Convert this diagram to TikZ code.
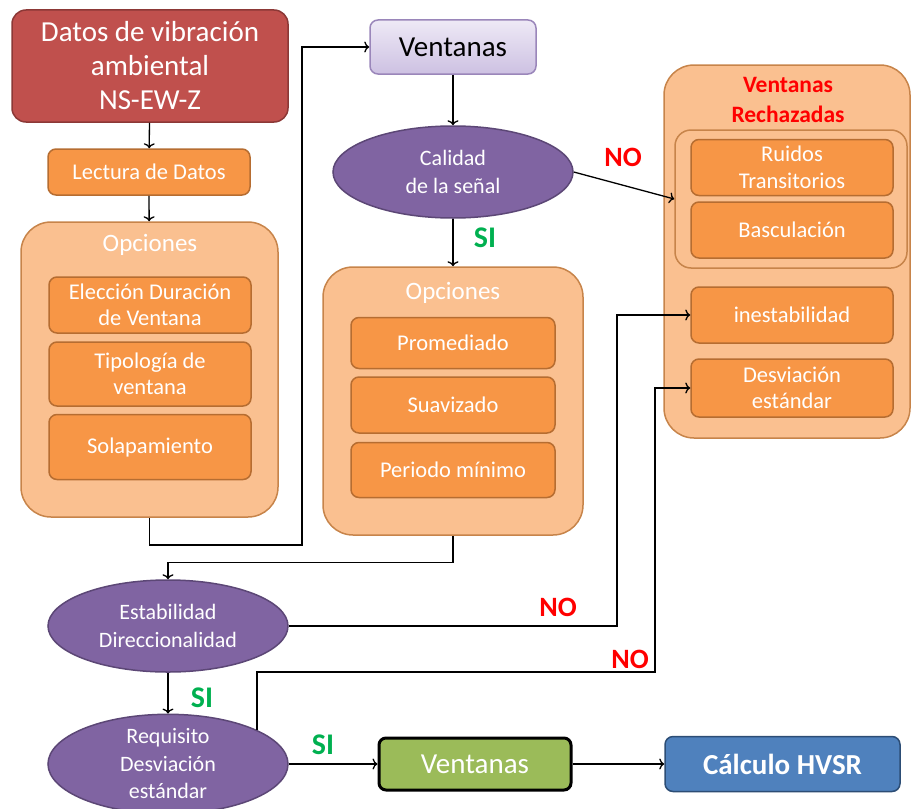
\documentclass[tikz,border=0pt]{standalone}
\usepackage{fontspec}
\setmainfont{Carlito}
\usetikzlibrary{shapes.geometric,arrows.meta}

\definecolor{datosred}{HTML}{C0504D}
\definecolor{datosedge}{HTML}{8C3836}
\definecolor{naranja}{HTML}{F79646}
\definecolor{naranjaedge}{HTML}{B66D31}
\definecolor{claro}{HTML}{FAC090}
\definecolor{claroedge}{HTML}{C7844A}
\definecolor{morado}{HTML}{8064A2}
\definecolor{moradoedge}{HTML}{5C4776}
\definecolor{lilatop}{HTML}{EEE9F6}
\definecolor{lilabot}{HTML}{CDC1E2}
\definecolor{lilaedge}{HTML}{9A86BA}
\definecolor{verde}{HTML}{9BBB59}
\definecolor{azul}{HTML}{4F81BD}
\definecolor{azuledge}{HTML}{2C4D75}
\definecolor{rojo}{HTML}{FF0000}
\definecolor{sigreen}{HTML}{00B050}

\begin{document}
\begin{tikzpicture}[x=1pt, y=-1pt, >={To[length=5pt,width=11pt]}, line width=1.3pt,
    opt/.style={rectangle, rounded corners=8pt, draw=naranjaedge, fill=naranja, line width=1.5pt, text=white, align=center, minimum width=202pt, font=\fontsize{22.5}{26.5}\selectfont},
    panel/.style={rectangle, rounded corners=30pt, draw=claroedge, fill=claro, line width=1.5pt},
    paneltit/.style={text=white, font=\fontsize{25}{28}\selectfont},
    decision/.style={ellipse, draw=moradoedge, fill=morado, line width=1.5pt, text=white, align=center, inner sep=0pt, minimum width=240pt, minimum height=92pt, font=\fontsize{22}{27.5}\selectfont},
    lblno/.style={text=rojo, font=\bfseries\fontsize{28}{30}\selectfont},
    lblsi/.style={text=sigreen, font=\bfseries\fontsize{30}{32}\selectfont}]
    \useasboundingbox (0,0) rectangle (912,808);

    % columna izquierda
    \node[rectangle, rounded corners=14pt, draw=datosedge, fill=datosred, line width=1.5pt, text=white, align=center, minimum width=276pt, minimum height=112pt, font=\fontsize{29}{34}\selectfont] (datos) at (150,66) {Datos de vibración\\ambiental\\NS-EW-Z};
    \node[opt, minimum height=46pt] (lectura) at (149,172) {Lectura de Datos};
    \node[panel, minimum width=257pt, minimum height=295pt] (opcA) at (149.5,369.5) {};
    \node[paneltit] (opcAtit) at (150,245) {Opciones};
    \node[opt, minimum height=56pt] (eleccion) at (150,305) {Elección Duración\\de Ventana};
    \node[opt, minimum height=64pt] (tipologia) at (150,374) {Tipología de\\ventana};
    \node[opt, minimum height=65pt] (solapa) at (150,447) {Solapamiento};

    % columna central
    \node[rectangle, rounded corners=8pt, draw=lilaedge, top color=lilatop, bottom color=lilabot, line width=1.5pt, minimum width=166pt, minimum height=54pt, font=\fontsize{29}{32}\selectfont] (vent1) at (453,47) {Ventanas};
    \node[decision] (calidad) at (453,172) {Calidad\\de la señal};
    \node[panel, minimum width=260pt, minimum height=268pt] (opcB) at (453,401) {};
    \node[paneltit] (opcBtit) at (453,293) {Opciones};
    \node[opt, minimum width=204pt, minimum height=51pt] (prom) at (453,343) {Promediado};
    \node[opt, minimum width=204pt, minimum height=56pt] (suav) at (453,405) {Suavizado};
    \node[opt, minimum width=204pt, minimum height=55pt] (periodo) at (453,470) {Periodo mínimo};

    % ventanas rechazadas
    \node[panel, minimum width=246pt, minimum height=373pt] (rech) at (787,251.5) {};
    \node[text=rojo, align=center, font=\bfseries\fontsize{23.5}{30}\selectfont] (rechtit) at (788,100) {Ventanas\\Rechazadas};
    \node[panel, rounded corners=16pt, minimum width=232pt, minimum height=138pt] (grupo) at (791,199) {};
    \node[opt, minimum height=56pt] (ruidos) at (792,167.5) {Ruidos\\Transitorios};
    \node[opt, minimum height=56pt] (bascul) at (792,230) {Basculación};
    \node[opt, minimum height=56pt] (inest) at (792,315) {inestabilidad};
    \node[opt, minimum height=58pt] (desv) at (792,388) {Desviación\\estándar};

    % parte inferior
    \node[decision] (estab) at (168,626) {Estabilidad\\Direccionalidad};
    \node[decision] (requi) at (168,764) {Requisito\\Desviación\\estándar};
    \node[rectangle, rounded corners=7pt, draw=black, fill=verde, line width=3pt, text=white, minimum width=192pt, minimum height=52pt, font=\fontsize{29}{32}\selectfont] (vent2) at (475,764) {Ventanas};
    \node[rectangle, rounded corners=8pt, draw=azuledge, fill=azul, line width=1.5pt, text=white, minimum width=235pt, minimum height=55pt, font=\bfseries\fontsize{29}{32}\selectfont] (hvsr) at (782.5,764) {Cálculo HVSR};

    % etiquetas
    \node[lblno] (no1) at (623,157) {NO};
    \node[lblno] (no2) at (558,607) {NO};
    \node[lblno] (no3) at (630,659) {NO};
    \node[lblsi] (si1) at (485,238) {SI};
    \node[lblsi] (si2) at (202,698) {SI};
    \node[lblsi] (si3) at (323,745) {SI};

    \coordinate (c1) at (302,545);
    \coordinate (c2) at (617,626);
    \coordinate (c3) at (655,672);

    \draw[->] (datos) -- (lectura);
    \draw[->] (lectura) -- (opcA);
    \draw[->] (opcA.south) |- (c1) |- (vent1.west);
    \draw[->] (vent1) -- (calidad);
    \draw[->] (calidad) -- (opcB);
    \draw[->] (calidad.east) -- (grupo.west);
    \draw[->] (opcB.south) -- ++(0,27) -| (estab.north);
    \draw[->] (estab.east) -- (c2) |- (inest.west);
    \draw[->] (estab) -- (requi);
    \draw[->] (requi.21) |- (c3) |- (desv.west);
    \draw[->] (requi) -- (vent2);
    \draw[->] (vent2) -- (hvsr);
\end{tikzpicture}
\end{document}
